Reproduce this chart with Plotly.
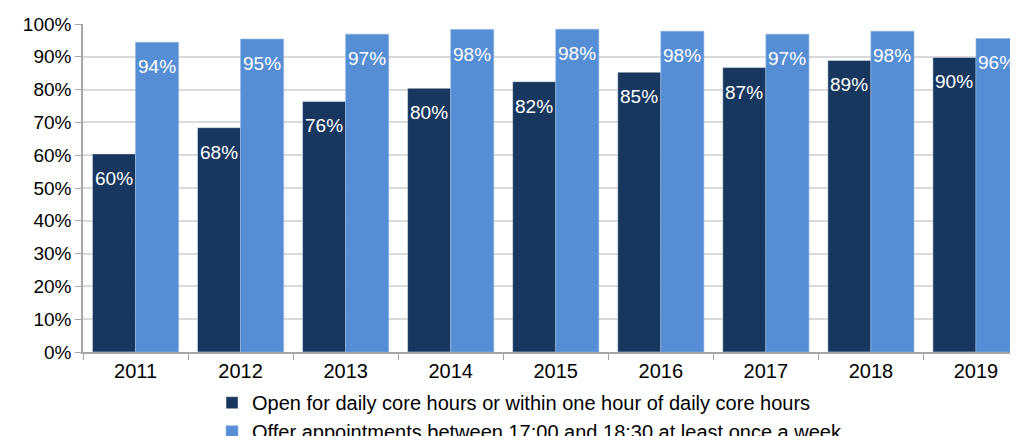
import plotly.graph_objects as go

years = ["2011", "2012", "2013", "2014", "2015", "2016", "2017", "2018", "2019"]
open_core = [60.4, 68.4, 76.4, 80.4, 82.4, 85.3, 86.7, 88.9, 89.8]
evening_appts = [94.4, 95.4, 96.9, 98.3, 98.4, 97.8, 96.9, 97.8, 95.6]

open_name = "Open for daily core hours or within one hour of daily core hours"
evening_name = "Offer appointments between 17:00 and 18:30 at least once a week"

DARK = "#17375E"
LIGHT = "#558ED5"
FONT = "Liberation Sans, Arial, sans-serif"

fig = go.Figure()
fig.add_trace(go.Bar(x=years, y=open_core, name=open_name, marker_color=DARK))
fig.add_trace(go.Bar(x=years, y=evening_appts, name=evening_name, marker_color=LIGHT,
                     marker_line=dict(color="#8DB3E2", width=0.6)))

# value labels just inside the top of each bar (category index + pixel offset to the bar)
for vals, shift in [(open_core, -21.5), (evening_appts, 21.5)]:
    for i, v in enumerate(vals):
        fig.add_annotation(x=i, y=v, xref="x", yref="y", text=f"{round(v)}%",
                           showarrow=False, xshift=shift, yshift=-12, yanchor="top",
                           font=dict(family=FONT, size=19, color="white"))

fig.update_layout(
    width=1018, height=436,
    margin=dict(l=75, r=8, t=16, b=92, autoexpand=False),
    paper_bgcolor="white", plot_bgcolor="white",
    barmode="group", bargap=0.18, bargroupgap=0,
    font=dict(family=FONT, size=19, color="#000000"),
    legend=dict(orientation="v", x=0.138, xanchor="left", y=-0.095, yanchor="top",
                font=dict(size=20), itemwidth=30, tracegroupgap=0),
    showlegend=True,
)
fig.update_xaxes(type="category", range=[-0.5, 8.4], showline=True, linecolor="#A6A6A6",
                 linewidth=1.5, ticks="outside", tickson="boundaries", ticklen=6,
                 tickcolor="#A6A6A6", showgrid=False, tickfont=dict(size=20))
fig.update_yaxes(range=[0, 100], dtick=10, ticksuffix="%", showline=True,
                 linecolor="#A6A6A6", linewidth=1.5, ticks="outside", ticklen=6,
                 tickcolor="#A6A6A6", gridcolor="#D9D9D9", gridwidth=2,
                 tickfont=dict(size=19), zeroline=False)

fig.write_html("out.html")
